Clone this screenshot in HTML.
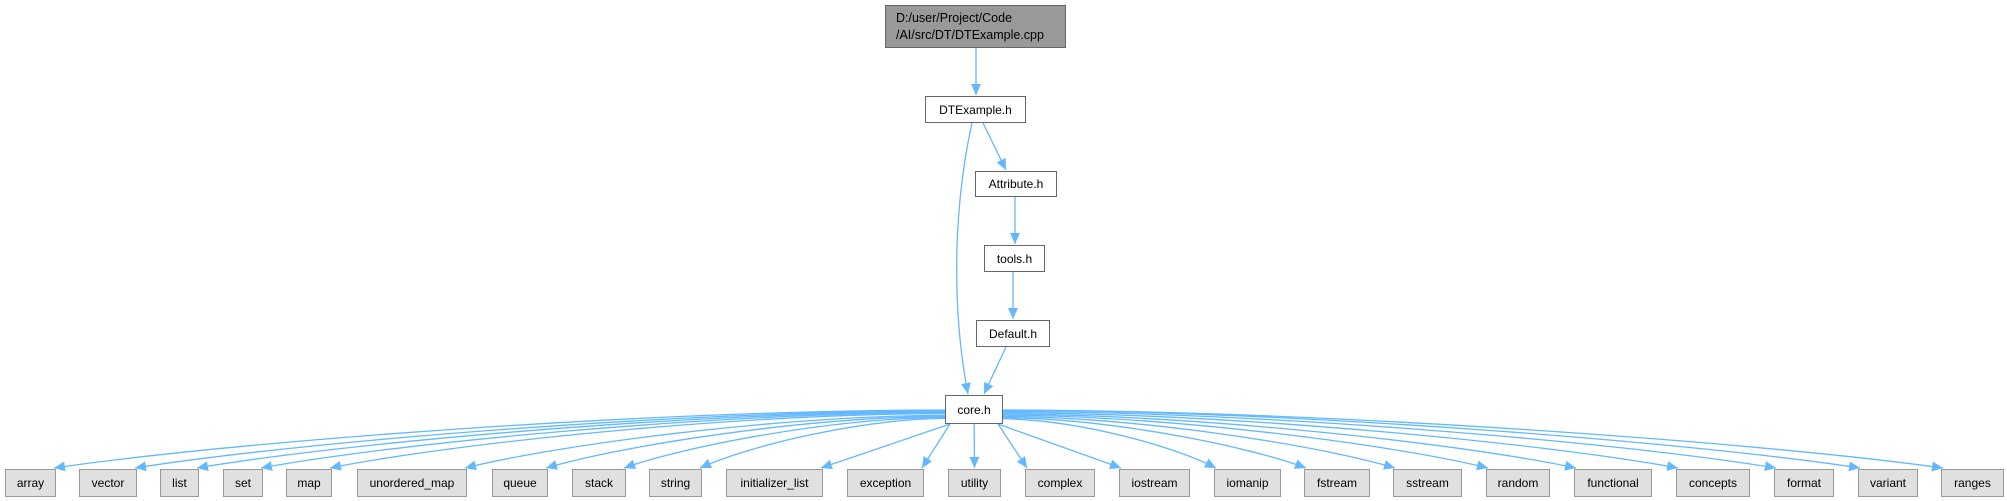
<!DOCTYPE html>
<html><head><meta charset="utf-8"><style>
body{margin:0;background:#fff;width:2007px;height:501px;overflow:hidden;position:relative;font-family:"Liberation Sans",Arial,sans-serif}
.n{position:absolute;box-sizing:border-box;border:1.5px solid #666;background:#fff;font-size:12px;color:#000;display:flex;align-items:center;justify-content:center;white-space:nowrap}
.g{background:#e0e0e0;border-color:#999;top:469px;height:28px}
svg{position:absolute;left:0;top:0}
</style></head><body>
<svg id="s" width="2007" height="501" viewBox="0 0 2007 501">
<defs><marker id="a" markerUnits="userSpaceOnUse" markerWidth="12" markerHeight="12" refX="11" refY="5" orient="auto"><path d="M0,0 L11,5 L0,10 Z" fill="#63b8ff"/></marker></defs>
<g id="e" fill="none" stroke="#63b8ff" stroke-width="1.3" marker-end="url(#a)">
<path d="M976,48 L976,95"/>
<path d="M983,123 L1006,170"/>
<path d="M1015,197 L1015,244"/>
<path d="M1013,272 L1013,319"/>
<path d="M1006,347 L984,394"/>
<path d="M972,123 C955,200 950,300 968,394"/>
</g></svg>
<div class="n" style="left:885px;top:5px;width:181px;height:43px;background:#999;border-color:#666;flex-direction:column;align-items:flex-start;padding-left:10px;line-height:17px;font-size:12.5px">D:/user/Project/Code<br>/AI/src/DT/DTExample.cpp</div>
<div class="n" style="left:925px;top:96px;width:101px;height:27px">DTExample.h</div>
<div class="n" style="left:975px;top:171px;width:82px;height:26px">Attribute.h</div>
<div class="n" style="left:984px;top:245px;width:61px;height:27px">tools.h</div>
<div class="n" style="left:976px;top:320px;width:74px;height:27px">Default.h</div>
<div class="n" style="left:945px;top:395px;width:58px;height:29px">core.h</div>
<div class="n g" style="left:5px;width:51px">array</div>
<div class="n g" style="left:79px;width:58px">vector</div>
<div class="n g" style="left:160px;width:39px">list</div>
<div class="n g" style="left:223px;width:40px">set</div>
<div class="n g" style="left:286px;width:46px">map</div>
<div class="n g" style="left:357px;width:110px">unordered_map</div>
<div class="n g" style="left:492px;width:56px">queue</div>
<div class="n g" style="left:572px;width:54px">stack</div>
<div class="n g" style="left:649px;width:53px">string</div>
<div class="n g" style="left:726px;width:97px">initializer_list</div>
<div class="n g" style="left:847px;width:77px">exception</div>
<div class="n g" style="left:948px;width:53px">utility</div>
<div class="n g" style="left:1025px;width:70px">complex</div>
<div class="n g" style="left:1119px;width:71px">iostream</div>
<div class="n g" style="left:1214px;width:67px">iomanip</div>
<div class="n g" style="left:1304px;width:66px">fstream</div>
<div class="n g" style="left:1393px;width:69px">sstream</div>
<div class="n g" style="left:1486px;width:64px">random</div>
<div class="n g" style="left:1574px;width:78px">functional</div>
<div class="n g" style="left:1676px;width:74px">concepts</div>
<div class="n g" style="left:1774px;width:60px">format</div>
<div class="n g" style="left:1858px;width:60px">variant</div>
<div class="n g" style="left:1941px;width:63px">ranges</div>
<script>
var B=[[5,56],[79,137],[160,199],[223,263],[286,332],[357,467],[492,548],[572,626],[649,702],[726,823],[847,924],[948,1001],[1025,1095],[1119,1190],[1214,1281],[1304,1370],[1393,1462],[1486,1550],[1574,1652],[1676,1750],[1774,1834],[1858,1918],[1941,2004]];
var g=document.getElementById('e'),cx=974,s='';
B.forEach(function(b,i){
 var c=(b[0]+b[1])/2,ex,sx,sy,d;
 if(c<cx-60){ex=b[1]-2}else if(c>cx+60){ex=b[0]+2}else{ex=c}
 var dx=ex-cx;
 if(Math.abs(dx)<40){sx=cx+dx*0.3;sy=424;d='M'+sx+','+sy+' L'+ex+',468';}
 else if(Math.abs(dx)<200){sx=dx<0?950:998;sy=424;d='M'+sx+','+sy+' L'+ex+',468';}
 else{
  sx=dx<0?945:1003;
  var k=Math.min(1,Math.abs(dx)/900);
  sy=422-12*k;
  var x1=sx+(ex-sx)*0.35,y1=sy+1,x2=ex-(ex-sx)*0.2,y2=468-(468-sy)*0.45;
  d='M'+sx+','+sy+' C'+x1+','+y1+' '+x2+','+y2+' '+ex+',468';
 }
 s+='<path d="'+d+'"/>';
});
g.innerHTML+=s;
</script>
</body></html>
